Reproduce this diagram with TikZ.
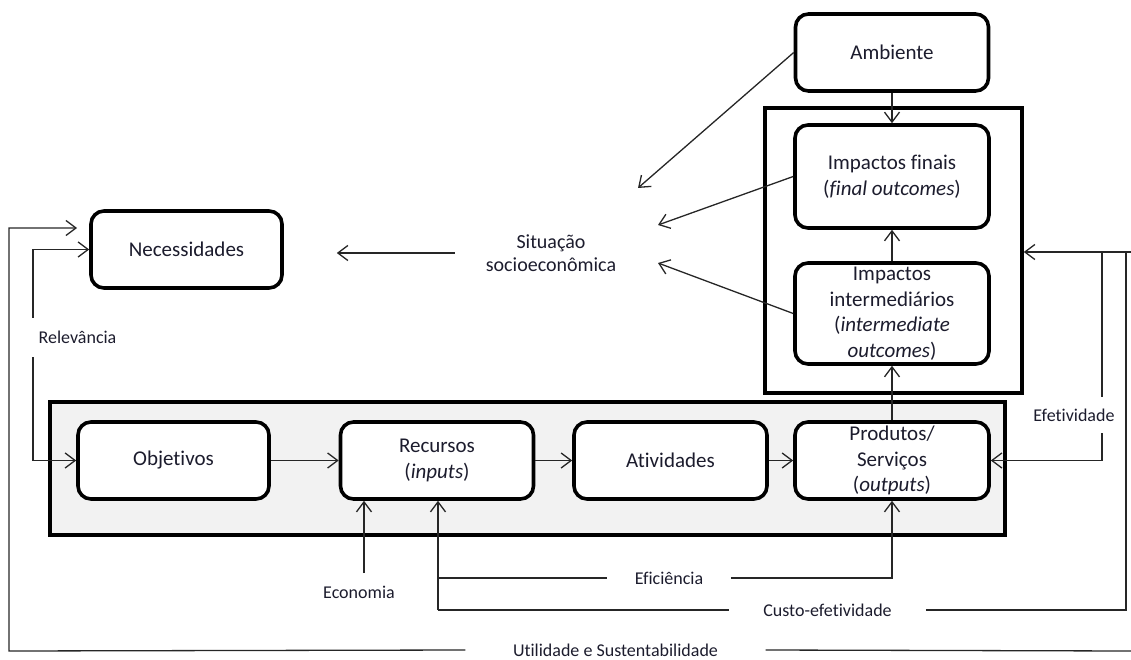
\documentclass[tikz,border=0pt]{standalone}
\usepackage{fontspec}
\setmainfont{Carlito}[Ligatures=NoCommon]
\usetikzlibrary{arrows.meta}
\definecolor{ink}{RGB}{28,28,45}
\definecolor{bandgray}{RGB}{242,242,242}
\begin{document}
\begin{tikzpicture}[x=1pt,y=-1pt,
  box/.style={draw=black, line width=3.6pt, rounded corners=13pt, fill=white,
    inner sep=0pt, align=center, text=ink, font=\fontsize{21}{25.5}\selectfont},
  frame/.style={draw=black, line width=3.6pt, inner sep=0pt},
  conn/.style={draw=black!85, line width=1.3pt},
  arr/.style={conn, -{Straight Barb[length=10pt,width=15pt,line width=1.3pt]}},
  lbl/.style={text=ink, font=\fontsize{18}{22}\selectfont, inner ysep=0pt},
]
\useasboundingbox (0,0) rectangle (1131,660);

% upper right: environment and the impacts frame
\node[box, minimum width=193pt, minimum height=77pt] (amb) at (892,52.5) {Ambiente};
\node[frame, minimum width=257pt, minimum height=285pt] (outer) at (893.5,250.5) {};
\node[box, minimum width=194pt, minimum height=103pt] (fin) at (892,176.5)
  {Impactos finais\\(\textit{final outcomes})};
\node[box, minimum width=194pt, minimum height=101pt] (int) at (892,313.5)
  {Impactos\\intermediários\\(\textit{intermediate}\\\textit{outcomes})};

% needs and socio-economic situation
\node[box, minimum width=191pt, minimum height=77pt] (nec) at (186.5,249.5) {Necessidades};
\node[text=ink, align=center, font=\fontsize{20}{22.5}\selectfont, inner sep=2pt] (sit)
  at (551,253) {Situação\\socioeconômica};

% programme band
\node[frame, fill=bandgray, minimum width=955pt, minimum height=133pt] (band) at (527.5,468.5) {};
\node[box, minimum width=191pt, minimum height=77pt] (obj) at (173.5,460.5) {Objetivos};
\node[box, minimum width=193pt, minimum height=77pt] (rec) at (437,460.5) {Recursos\\(\textit{inputs})};
\node[box, minimum width=193pt, minimum height=77pt] (ativ) at (670.5,460.5) {Atividades};
\node[box, minimum width=194pt, minimum height=77pt] (prod) at (892,460.5)
  {Produtos/\\Serviços\\(\textit{outputs})};

% criteria labels
\node[lbl, minimum height=39pt, inner xsep=0pt] (rel) at (77.5,337.5) {Relevância};
\node[lbl, minimum height=36pt, inner xsep=0pt] (efv) at (1074,415) {Efetividade};
\node[lbl] (ecl) at (359,592) {Economia};
\node[lbl, inner xsep=27.5pt] (efl) at (669,578) {Eficiência};
\node[lbl, inner xsep=34pt] (cel) at (827.5,610) {Custo-efetividade};
\node[lbl, inner xsep=47.5pt] (utl) at (615.5,650) {Utilidade e Sustentabilidade};

% free ends and bends
\coordinate (p1) at (638,188);
\coordinate (p2) at (658,225);
\coordinate (p3) at (658,263);
\coordinate (rx) at (33,0);
\coordinate (eco) at (364,573);
\coordinate (rj) at (438,610);
\coordinate (cr) at (1126,252);
\coordinate (ct) at (1131,252);
\coordinate (et) at (1102,252);
\coordinate (ur) at (1131,651);
\coordinate (ul) at (9,651);
\coordinate (ua) at (77,228);

% flows between boxes
\draw[arr] (amb.south) -- (amb.south |- fin.north);
\draw[arr] (int.north) -- (fin.south);
\draw[arr] (prod.north) -- (int.south);
\draw[arr] (obj.east) -- (rec.west);
\draw[arr] (rec.east) -- (ativ.west);
\draw[arr] (ativ.east) -- (prod.west);

% influences on the socio-economic situation
\draw[arr] (amb.west) -- (p1);
\draw[arr] (fin.west) -- (p2);
\draw[arr] (int.west) -- (p3);
\draw[arr, shorten <=29pt, shorten >=53pt] (sit.west) -- (sit.west -| nec.east);

% relevance
\draw[arr] (rel.north -| rx) |- (nec.west);
\draw[arr] (rel.south -| rx) |- (obj.west);

% economy, efficiency, cost-effectiveness
\draw[arr] (eco) -- (eco |- rec.south);
\draw[arr] (rj) -- (rj |- rec.south);
\draw[conn] (rj |- efl) -- (efl.west);
\draw[arr] (efl.east) -| (prod.south);
\draw[conn] (rj) -- (cel.west);
\draw[conn] (cel.east) -| (cr);

% effectiveness
\draw[arr] (ct) -- (ct -| outer.east);
\draw[conn] (et) -- (et |- efv.north);
\draw[arr] (et |- efv.south) |- (prod.east);

% utility and sustainability
\draw[conn] (ur) -- (utl.east);
\draw[arr] (utl.west) -- (ul) |- (ua);
\end{tikzpicture}
\end{document}
